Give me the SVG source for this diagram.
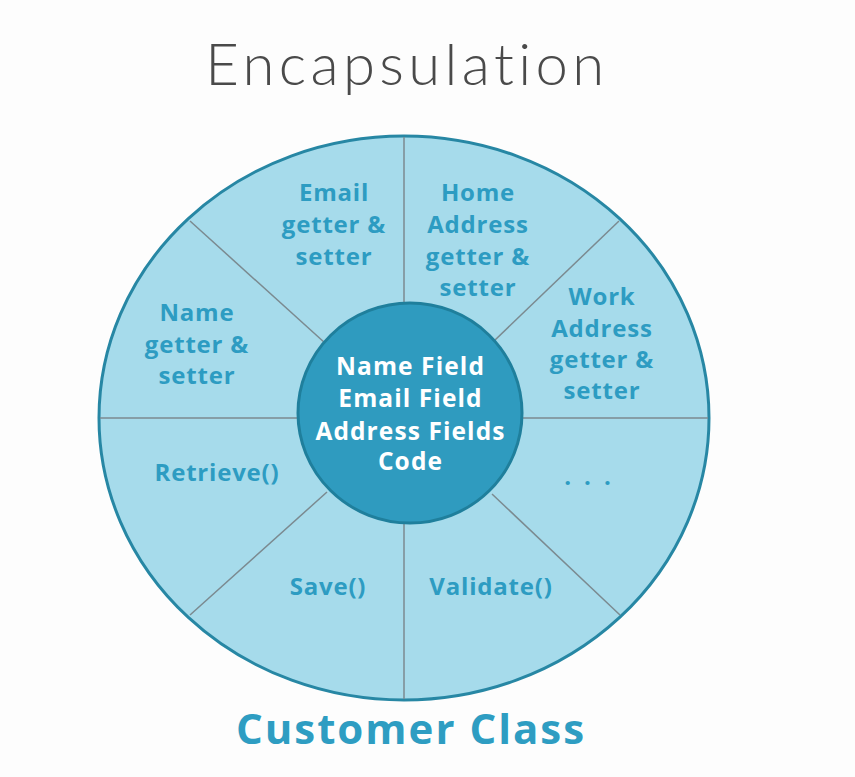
<svg xmlns="http://www.w3.org/2000/svg" width="855" height="777" viewBox="0 0 855 777">
  <style>
    .title { font-family: Lato, "Open Sans", "Liberation Sans", sans-serif; font-weight: 300; font-size: 58px; letter-spacing: 4.4px; font-variant-ligatures: none; fill: #4a4a4a; }
    .label { font-family: "Open Sans", "Liberation Sans", sans-serif; font-weight: 700; font-size: 24px; letter-spacing: 0.8px; fill: #2d9cc2; text-anchor: middle; }
    .core { font-family: "Open Sans", "Liberation Sans", sans-serif; font-weight: 700; font-size: 24.5px; letter-spacing: 1.1px; fill: #ffffff; text-anchor: middle; }
    .caption { font-family: "Open Sans", "Liberation Sans", sans-serif; font-weight: 700; font-size: 42px; letter-spacing: 2px; fill: #2e9dc2; text-anchor: middle; }
    .divider { stroke: #7b8a90; stroke-width: 1.5; fill: none; }
  </style>

  <rect width="855" height="777" fill="#fdfdfd"/>

  <text class="title" x="407" y="85" text-anchor="middle">Encapsulation</text>

  <!-- outer wheel -->
  <g id="class-wheel">
    <ellipse cx="404" cy="418" rx="305" ry="282" fill="#a6dbeb" stroke="#2787a4" stroke-width="3"/>
  </g>

  <!-- spokes between the outer ring and the core -->
  <g id="connectors">
    <line class="divider" x1="404" y1="137" x2="404" y2="304"/>
    <line class="divider" x1="404" y1="522" x2="404" y2="699"/>
    <line class="divider" x1="100" y1="418" x2="298" y2="418"/>
    <line class="divider" x1="522" y1="418" x2="708" y2="418"/>
    <line class="divider" x1="190" y1="221" x2="325" y2="343"/>
    <line class="divider" x1="619" y1="221" x2="494" y2="341"/>
    <line class="divider" x1="190" y1="615" x2="327" y2="492"/>
    <line class="divider" x1="620" y1="615" x2="492" y2="494"/>
  </g>

  <g id="email-accessors">
    <text class="label" x="334" y="201">Email</text>
    <text class="label" x="334" y="233">getter &amp;</text>
    <text class="label" x="334" y="265">setter</text>
  </g>

  <g id="home-address-accessors">
    <text class="label" x="478" y="201">Home</text>
    <text class="label" x="478" y="233">Address</text>
    <text class="label" x="478" y="265">getter &amp;</text>
    <text class="label" x="478" y="296">setter</text>
  </g>

  <g id="work-address-accessors">
    <text class="label" x="602" y="305">Work</text>
    <text class="label" x="602" y="337">Address</text>
    <text class="label" x="602" y="368">getter &amp;</text>
    <text class="label" x="602" y="399">setter</text>
  </g>

  <g id="name-accessors">
    <text class="label" x="197" y="321">Name</text>
    <text class="label" x="197" y="353">getter &amp;</text>
    <text class="label" x="197" y="384">setter</text>
  </g>

  <g id="retrieve">
    <text class="label" x="217" y="481">Retrieve()</text>
  </g>

  <g id="more">
    <text class="label" x="594" y="485" style="letter-spacing:13px">...</text>
  </g>

  <g id="save">
    <text class="label" x="328" y="595">Save()</text>
  </g>

  <g id="validate">
    <text class="label" x="491" y="595">Validate()</text>
  </g>

  <!-- private core -->
  <g id="core-fields">
    <ellipse cx="410" cy="413" rx="112" ry="110" fill="#2f9bbf" stroke="#1f7f9c" stroke-width="3"/>
    <text class="core" x="410.5" y="375">Name Field</text>
    <text class="core" x="410.5" y="407">Email Field</text>
    <text class="core" x="410.5" y="440">Address Fields</text>
    <text class="core" x="410.5" y="470">Code</text>
  </g>

  <text class="caption" x="411" y="744">Customer Class</text>
</svg>
